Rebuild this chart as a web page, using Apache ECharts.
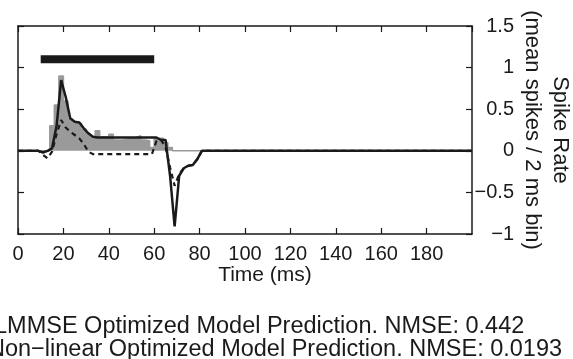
<!DOCTYPE html>
<html>
<head>
<meta charset="utf-8">
<style>
  html, body { margin: 0; padding: 0; background: #fff; }
  #chart { width: 573px; height: 359px; }
</style>
<script src="https://cdn.jsdelivr.net/npm/echarts@6/dist/echarts.min.js"></script>
</head>
<body>
<div id="chart"></div>
<script>
// prediction samples (ms, bin centres)
const timeMs = [0, 1, 3, 5, 7, 9, 11, 13, 15, 17, 19, 21, 23, 25, 27, 29, 31, 33, 35, 37, 39,
  41, 43, 45, 47, 49, 51, 53, 55, 57, 59, 61, 63, 65, 67, 69, 71, 73, 75, 77, 79, 81, 200]
const nonlinearPred = [0, 0, 0, 0, 0, 0, -0.02, 0, 0.03, 0.3, 0.85, 0.65, 0.39, 0.35, 0.34, 0.27, 0.21, 0.17, 0.16, 0.16, 0.16,
  0.16, 0.16, 0.16, 0.16, 0.16, 0.16, 0.16, 0.16, 0.16, 0.16, 0.16, 0.13, 0.13, -0.3, -0.91, -0.3, -0.21, -0.18, -0.17, -0.1, 0, 0]
const lmmsePred = [0, 0, 0, 0, 0, 0, -0.05, -0.09, -0.01, 0.2, 0.37, 0.28, 0.23, 0.19, 0.15, 0.08, -0.01, -0.04, -0.04, -0.04, -0.04,
  -0.04, -0.04, -0.04, -0.04, -0.04, -0.04, -0.04, -0.04, -0.04, -0.04, 0.12, 0.13, 0.04, -0.2, -0.42, -0.28, -0.21, -0.18, -0.17, -0.1, 0, 0]

// measured response, 2 ms bins (bin start times)
const binStart = [0, 14, 16, 18, 20, 22, 24, 26, 28, 30, 32, 34, 36, 38, 40, 42, 44, 46, 48, 50,
  52, 54, 56, 58, 60, 62, 64, 66, 68, 200]
const binRate = [0, 0.3, 0.55, 0.9, 0.6, 0.38, 0.35, 0.33, 0.26, 0.2, 0.17, 0.24, 0.17, 0.17, 0.2, 0.13, 0.13, 0.14, 0.15, 0.16,
  0.18, 0.13, 0.12, 0.04, 0.15, 0.15, 0.1, 0.04, 0, 0]

// stimulus bar
const stimTime = [10, 60]
const stimLevel = [1.1, 1.1]

const xTicks = { min: 0, max: 200, interval: 20 }
const yTicks = { min: -1, max: 1.5, interval: 0.5 }

const legendLines = [
  'LMMSE Optimized Model Prediction. NMSE: 0.442',
  'Non\u2212linear Optimized Model Prediction. NMSE: 0.0193'
]

const font = 'Liberation Sans'
const ink = '#1a1a1a'
const zip = (xs, ys) => xs.map((x, i) => [x, ys[i]])

const axisLine = { show: true, onZero: false, lineStyle: { color: ink, width: 1.5 } }
const tick = { show: true, inside: true, length: 6, lineStyle: { color: ink, width: 1.2 } }

const chart = echarts.init(document.getElementById('chart'))
chart.setOption({
  animation: false,
  backgroundColor: '#fff',
  textStyle: { fontFamily: font, color: ink },
  grid: { left: 18, right: 101, top: 26, bottom: 125, outerBoundsMode: 'none', containLabel: false },
  xAxis: [
    {
      type: 'value', position: 'bottom', ...xTicks,
      axisLine, axisTick: tick, splitLine: { show: false },
      axisLabel: { color: ink, fontSize: 20, margin: 10, showMaxLabel: false },
      name: 'Time (ms)', nameLocation: 'middle', nameGap: 31, nameMoveOverlap: false,
      nameTextStyle: { color: ink, fontSize: 21, padding: [0, 0, 0, 40] }
    },
    {
      type: 'value', position: 'top', ...xTicks,
      axisLine, axisTick: tick, splitLine: { show: false }, axisLabel: { show: false }
    }
  ],
  yAxis: [
    {
      type: 'value', position: 'right', ...yTicks,
      axisLine, axisTick: tick, splitLine: { show: false },
      axisLabel: {
        color: ink, fontSize: 20, margin: 42, align: 'right',
        formatter: (v) => String(v).replace('-', '\u2212')
      },
      name: 'Spike Rate\n(mean spikes / 2 ms bin)', nameLocation: 'middle', nameRotate: -90,
      nameGap: 46, nameMoveOverlap: false,
      nameTextStyle: { color: ink, fontSize: 22, lineHeight: 28, align: 'center' }
    },
    {
      type: 'value', position: 'left', ...yTicks,
      axisLine, axisTick: tick, splitLine: { show: false }, axisLabel: { show: false }
    }
  ],
  series: [
    {
      name: 'response', type: 'line', step: 'end', data: zip(binStart, binRate),
      symbol: 'none', lineStyle: { color: '#9a9a9a', width: 1.5 },
      areaStyle: { color: '#9a9a9a', opacity: 1 }, z: 1
    },
    {
      name: 'LMMSE', type: 'line', data: zip(timeMs, lmmsePred),
      symbol: 'none', lineStyle: { color: ink, width: 2.2, type: [5, 4] }, z: 2
    },
    {
      name: 'Non-linear', type: 'line', data: zip(timeMs, nonlinearPred),
      symbol: 'none', lineStyle: { color: ink, width: 2.5 }, z: 3
    },
    {
      name: 'stimulus', type: 'line', data: zip(stimTime, stimLevel),
      symbol: 'none', lineStyle: { color: ink, width: 8 }, z: 4
    }
  ],
  graphic: legendLines.map((t, i) => ({
    type: 'text', x: i === 0 ? -6 : -12, y: 315 + i * 23,
    style: { text: t, fontFamily: font, fontSize: 23.5, fill: ink, textVerticalAlign: 'top' }
  }))
})
</script>
</body>
</html>
